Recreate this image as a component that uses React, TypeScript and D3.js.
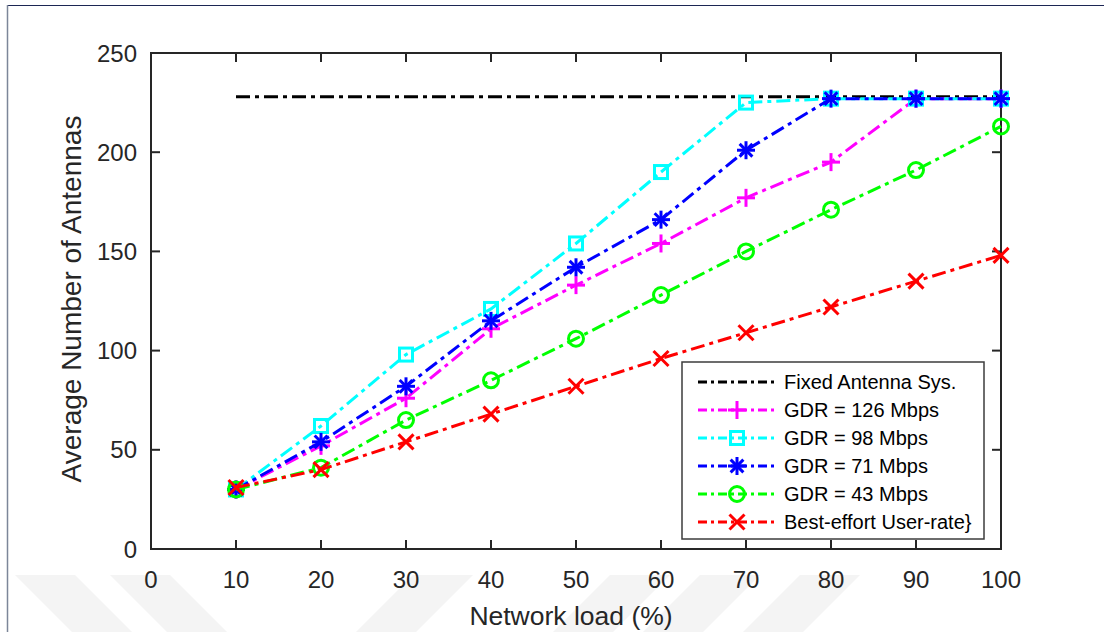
import React from 'react';
import * as d3 from 'd3';

// network load (%) on the x axis
const loads = [10, 20, 30, 40, 50, 60, 70, 80, 90, 100];

// average number of antennas
const fixedAntenna = [228, 228, 228, 228, 228, 228, 228, 228, 228, 228];
const gdr126 = [30, 52, 76, 111, 133, 154, 177, 195, 227, 227];
const gdr98 = [30, 62, 98, 121, 154, 190, 225, 227, 227, 227];
const gdr71 = [30, 54, 82, 115, 142, 166, 201, 227, 227, 227];
const gdr43 = [30, 41, 65, 85, 106, 128, 150, 171, 191, 213];
const bestEffort = [31, 40, 54, 68, 82, 96, 109, 122, 135, 148];

const seriesNames = [
  'Fixed Antenna Sys.',
  'GDR = 126 Mbps',
  'GDR = 98 Mbps',
  'GDR = 71 Mbps',
  'GDR = 43 Mbps',
  'Best-effort User-rate}',
];

const xTicks = [0, 10, 20, 30, 40, 50, 60, 70, 80, 90, 100];
const yTicks = [0, 50, 100, 150, 200, 250];

const series = [
  { name: seriesNames[0], values: fixedAntenna, color: '#000000', marker: 'none' },
  { name: seriesNames[1], values: gdr126, color: '#ff00ff', marker: 'plus' },
  { name: seriesNames[2], values: gdr98, color: '#00ffff', marker: 'square' },
  { name: seriesNames[3], values: gdr71, color: '#0000ff', marker: 'star' },
  { name: seriesNames[4], values: gdr43, color: '#00ff00', marker: 'circle' },
  { name: seriesNames[5], values: bestEffort, color: '#ff0000', marker: 'cross' },
];

const W = 1104;
const H = 632;
const plot = { left: 151, right: 1001, top: 53, bottom: 549 };
const font = '"Liberation Sans", Arial, Helvetica, sans-serif';
const axisColor = '#262626';
const dash = '14,5,4,5';

const x = d3.scaleLinear().domain([0, 100]).range([plot.left, plot.right]);
const y = d3.scaleLinear().domain([0, 250]).range([plot.bottom, plot.top]);

const Marker = ({ type, cx, cy, color }: { type: string; cx: number; cy: number; color: string }) => {
  const sw = 3;
  if (type === 'plus') {
    const r = 9;
    return (
      <g stroke={color} strokeWidth={sw}>
        <line x1={cx - r} y1={cy} x2={cx + r} y2={cy} />
        <line x1={cx} y1={cy - r} x2={cx} y2={cy + r} />
      </g>
    );
  }
  if (type === 'square') {
    const r = 6.5;
    return <rect x={cx - r} y={cy - r} width={2 * r} height={2 * r} fill="none" stroke={color} strokeWidth={sw} />;
  }
  if (type === 'star') {
    const r = 9;
    const d = r * Math.SQRT1_2;
    return (
      <g stroke={color} strokeWidth={sw}>
        <line x1={cx - r} y1={cy} x2={cx + r} y2={cy} />
        <line x1={cx} y1={cy - r} x2={cx} y2={cy + r} />
        <line x1={cx - d} y1={cy - d} x2={cx + d} y2={cy + d} />
        <line x1={cx - d} y1={cy + d} x2={cx + d} y2={cy - d} />
      </g>
    );
  }
  if (type === 'circle') {
    return <circle cx={cx} cy={cy} r={7.5} fill="none" stroke={color} strokeWidth={sw} />;
  }
  if (type === 'cross') {
    const r = 7.5;
    return (
      <g stroke={color} strokeWidth={sw}>
        <line x1={cx - r} y1={cy - r} x2={cx + r} y2={cy + r} />
        <line x1={cx - r} y1={cy + r} x2={cx + r} y2={cy - r} />
      </g>
    );
  }
  return null;
};

const App = () => {
  const line = d3
    .line<number>()
    .x((_, i) => x(loads[i]))
    .y((d) => y(d));

  const tickLen = 9;
  const legend = { x: 682, y: 362, w: 302, h: 177, row0: 382, step: 28 };

  // faint chevron watermark near the bottom
  const bands = [
    [15, 1], [110, 1], [413, -1], [610, -1], [700, -1], [800, -1],
  ];

  return (
    <svg width={W} height={H} style={{ display: 'block', position: 'absolute', left: 0, top: 0 }}>
      <rect width={W} height={H} fill="#ffffff" />
      {bands.map(([bx, dir], i) => {
        const w = 60;
        const dy = H - 575;
        const off = dir * dy;
        return (
          <polygon
            key={i}
            points={`${bx},575 ${bx + w},575 ${bx + w + off},${H} ${bx + off},${H}`}
            fill="#f4f4f4"
          />
        );
      })}
      <line x1={7} y1={5.5} x2={W} y2={5.5} stroke="#1c2654" strokeWidth={1.2} />
      <line x1={7.5} y1={5} x2={7.5} y2={H} stroke="#7c8699" strokeWidth={1.5} />

      {/* axes box */}
      <rect
        x={plot.left}
        y={plot.top}
        width={plot.right - plot.left}
        height={plot.bottom - plot.top}
        fill="none"
        stroke={axisColor}
        strokeWidth={2}
      />
      {xTicks.map((t) => (
        <g key={'x' + t}>
          <line x1={x(t)} y1={plot.bottom} x2={x(t)} y2={plot.bottom - tickLen} stroke={axisColor} strokeWidth={2} />
          <line x1={x(t)} y1={plot.top} x2={x(t)} y2={plot.top + tickLen} stroke={axisColor} strokeWidth={2} />
          <text x={x(t)} y={588} textAnchor="middle" fontFamily={font} fontSize={24} fill={axisColor}>
            {t}
          </text>
        </g>
      ))}
      {yTicks.map((t) => (
        <g key={'y' + t}>
          <line x1={plot.left} y1={y(t)} x2={plot.left + tickLen} y2={y(t)} stroke={axisColor} strokeWidth={2} />
          <line x1={plot.right} y1={y(t)} x2={plot.right - tickLen} y2={y(t)} stroke={axisColor} strokeWidth={2} />
          <text x={137} y={y(t) + 8.5} textAnchor="end" fontFamily={font} fontSize={24} fill={axisColor}>
            {t}
          </text>
        </g>
      ))}
      <text x={571} y={625} textAnchor="middle" fontFamily={font} fontSize={26.5} fill={axisColor}>
        Network load (%)
      </text>
      <text
        transform={`translate(81,299) rotate(-90)`}
        textAnchor="middle"
        fontFamily={font}
        fontSize={28}
        fill={axisColor}
      >
        Average Number of Antennas
      </text>

      {/* series */}
      {series.map((s) => (
        <g key={s.name}>
          <path d={line(s.values) || ''} fill="none" stroke={s.color} strokeWidth={3} strokeDasharray={dash} />
          {s.values.map((v, i) => (
            <Marker key={i} type={s.marker} cx={x(loads[i])} cy={y(v)} color={s.color} />
          ))}
        </g>
      ))}

      {/* legend */}
      <rect x={legend.x} y={legend.y} width={legend.w} height={legend.h} fill="#ffffff" stroke="#3c3c3c" strokeWidth={1.5} />
      {series.map((s, i) => {
        const ry = legend.row0 + i * legend.step;
        return (
          <g key={'leg' + i}>
            <line x1={698} y1={ry} x2={776} y2={ry} stroke={s.color} strokeWidth={3} strokeDasharray="9,4,3,4" />
            <Marker type={s.marker} cx={737} cy={ry} color={s.color} />
            <text x={784} y={ry + 7} fontFamily={font} fontSize={20} fill="#000000">
              {s.name}
            </text>
          </g>
        );
      })}
    </svg>
  );
};

export default App;
